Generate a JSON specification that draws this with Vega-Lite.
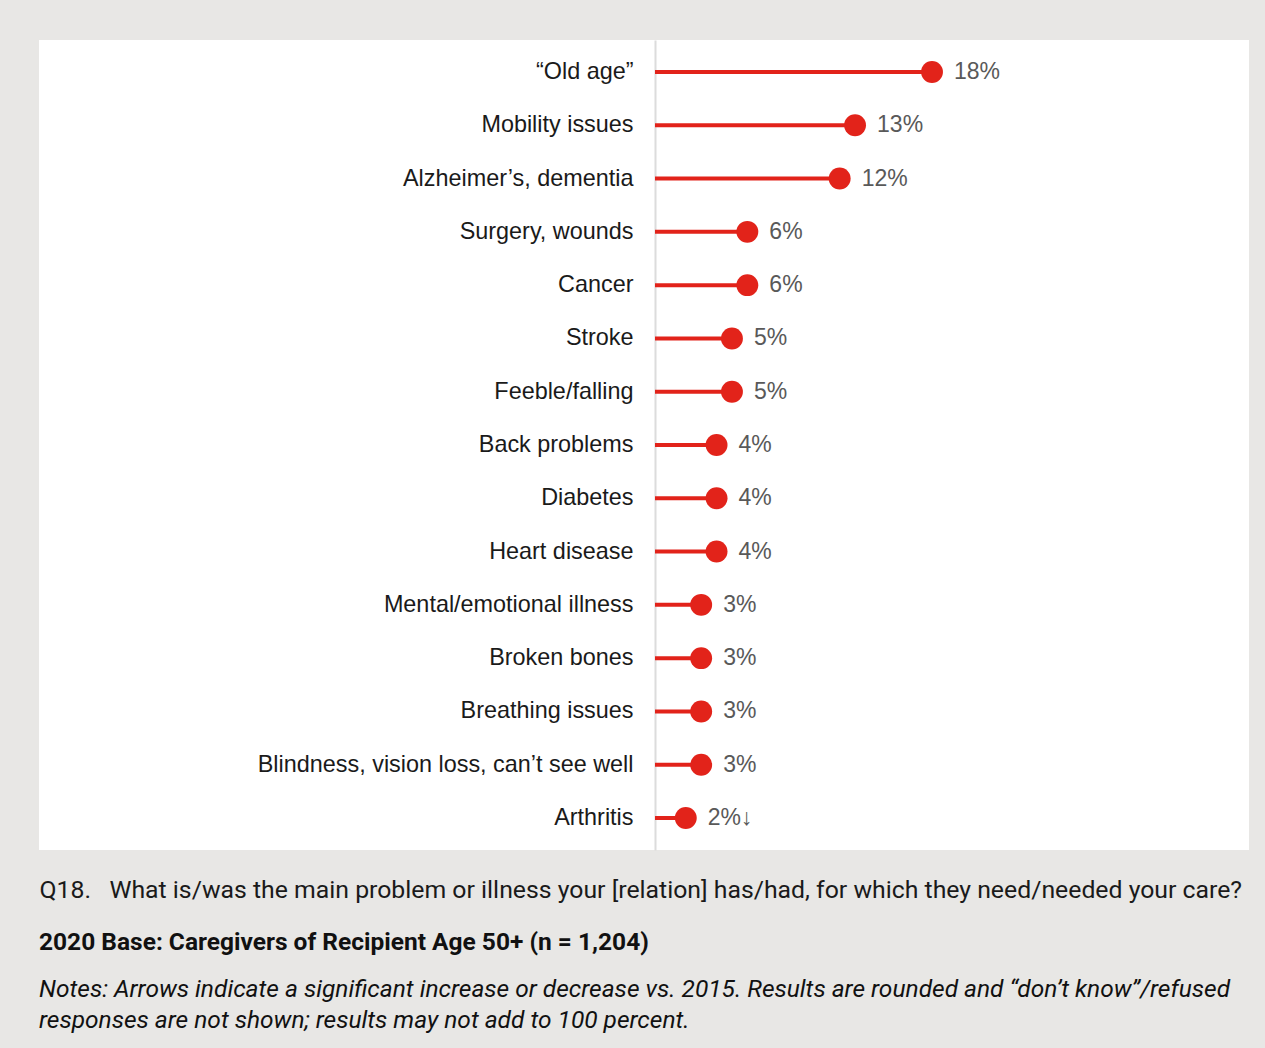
{
  "$schema": "https://vega.github.io/schema/vega-lite/v6.json",
  "width": 1210,
  "height": 810,
  "padding": {"left": 39, "top": 40, "right": 16, "bottom": 18},
  "background": "#e8e7e5",
  "view": {"fill": "white", "stroke": null},
  "config": {"axis": {"grid": false}},
  "title": {
    "text": "2020 Base: Caregivers of Recipient Age 50+ (n = 1,204)",
    "subtitle": ["Notes: Arrows indicate a significant increase or decrease vs. 2015. Results are rounded and “don’t know”/refused", "responses are not shown; results may not add to 100 percent."],
    "orient": "bottom",
    "anchor": "start",
    "frame": "group",
    "font": "Roboto",
    "fontSize": 24.5,
    "fontWeight": "bold",
    "color": "#111111",
    "offset": 29,
    "subtitleFont": "Roboto",
    "subtitleFontSize": 24.5,
    "subtitleFontStyle": "italic",
    "subtitleColor": "#111111",
    "subtitlePadding": 23,
    "subtitleLineHeight": 31
  },
  "data": {
    "values": [
      {"category": "“Old age”", "value": 18, "label": "18%"},
      {"category": "Mobility issues", "value": 13, "label": "13%"},
      {"category": "Alzheimer’s, dementia", "value": 12, "label": "12%"},
      {"category": "Surgery, wounds", "value": 6, "label": "6%"},
      {"category": "Cancer", "value": 6, "label": "6%"},
      {"category": "Stroke", "value": 5, "label": "5%"},
      {"category": "Feeble/falling", "value": 5, "label": "5%"},
      {"category": "Back problems", "value": 4, "label": "4%"},
      {"category": "Diabetes", "value": 4, "label": "4%"},
      {"category": "Heart disease", "value": 4, "label": "4%"},
      {"category": "Mental/emotional illness", "value": 3, "label": "3%"},
      {"category": "Broken bones", "value": 3, "label": "3%"},
      {"category": "Breathing issues", "value": 3, "label": "3%"},
      {"category": "Blindness, vision loss, can’t see well", "value": 3, "label": "3%"},
      {"category": "Arthritis", "value": 2, "label": "2%↓"}
    ]
  },
  "encoding": {
    "y": {
      "field": "category",
      "type": "nominal",
      "sort": null,
      "scale": {"paddingInner": 0, "paddingOuter": 0.1},
      "axis": {
        "title": null,
        "offset": -616,
        "ticks": false,
        "domainColor": "#dcdcdc",
        "domainWidth": 2,
        "labelFont": "Liberation Sans",
        "labelFontSize": 23.4,
        "labelColor": "#1a1a1a",
        "labelPadding": 22,
        "labelLimit": 0
      }
    },
    "x": {
      "field": "value",
      "type": "quantitative",
      "scale": {"domain": [-40.03, 38.6], "nice": false, "zero": false},
      "axis": {
        "title": "Q18.\u00a0\u00a0\u00a0What is/was the main problem or illness your [relation] has/had, for which they need/needed your care?",
        "labels": false,
        "ticks": false,
        "domain": false,
        "titleAnchor": "start",
        "titleAlign": "left",
        "titleFont": "Roboto",
        "titleFontSize": 24.8,
        "titleFontWeight": "normal",
        "titleColor": "#1a1a1a",
        "titlePadding": 27
      }
    }
  },
  "layer": [
    {
      "mark": {"type": "rule", "color": "#e2231a", "strokeWidth": 4},
      "encoding": {"x2": {"datum": 0}}
    },
    {
      "mark": {"type": "circle", "color": "#e2231a", "opacity": 1, "size": 480}
    },
    {
      "mark": {"type": "text", "align": "left", "baseline": "middle", "dx": 22, "font": "Liberation Sans", "fontSize": 23, "color": "#595959"},
      "encoding": {"text": {"field": "label"}}
    }
  ]
}
